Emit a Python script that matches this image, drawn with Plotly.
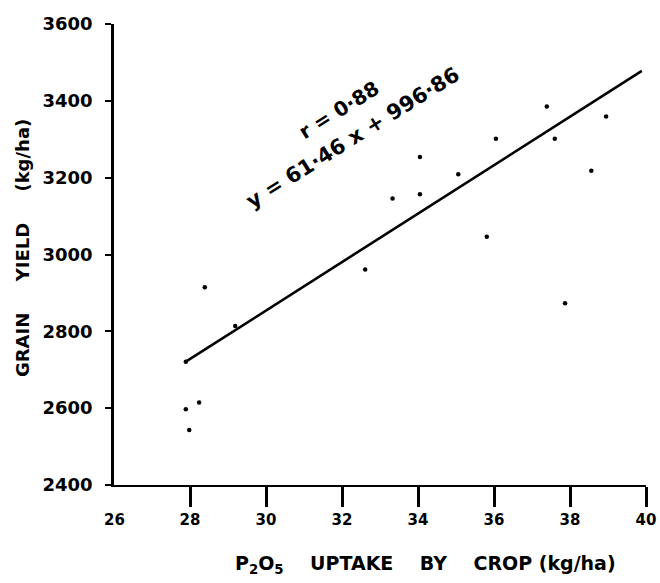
import plotly.graph_objects as go

# P2O5 uptake by crop (kg/ha) vs grain yield (kg/ha)
p2o5_uptake = [37.39, 38.95, 36.05, 37.60, 34.05, 35.06, 38.56, 33.33, 34.05,
               35.81, 32.61, 37.87, 28.39, 29.19, 27.89, 28.24, 27.89, 27.98]
grain_yield = [3385, 3359, 3301, 3301, 3254, 3209, 3218, 3146, 3157,
               3046, 2961, 2873, 2915, 2814, 2721, 2615, 2597, 2543]

# drawn regression line end points
line_x = [27.89, 39.89]
line_y = [2721, 3478]

x_tickvals = [28, 30, 32, 34, 36, 38, 40]
x_ticktext = ["28", "30", "32", "34", "36", "38", "40"]
x_first_label = "26"
y_tickvals = [2400, 2600, 2800, 3000, 3200, 3400, 3600]
y_ticktext = ["2400", "2600", "2800", "3000", "3200", "3400", "3600"]

NB = "\u00a0"
x_title = ("P<sub>2</sub>O<sub>5</sub>" + NB * 4 + "UPTAKE" + NB * 4 + "BY" + NB * 4 +
           "CROP" + NB + "(kg/ha)")
y_title = "GRAIN" + NB * 5 + "YIELD" + NB * 5 + "(kg/ha)"
r_text = "r = 0·88"
eq_text = "y = 61·46 x + 996·86"

FONT = "DejaVu Sans"

fig = go.Figure()
fig.add_trace(go.Scatter(x=line_x, y=line_y, mode="lines",
                         line=dict(color="black", width=2.6),
                         hoverinfo="skip", showlegend=False))
fig.add_trace(go.Scatter(x=p2o5_uptake, y=grain_yield, mode="markers",
                         marker=dict(color="black", size=4.5),
                         showlegend=False))

fig.update_layout(
    width=660, height=583,
    margin=dict(l=114, r=14, t=24, b=98),
    plot_bgcolor="white", paper_bgcolor="white",
    font=dict(family=FONT, color="black"),
    xaxis=dict(range=[26, 40], tickvals=x_tickvals, ticktext=x_ticktext,
               automargin=False,
               showgrid=False, zeroline=False, showline=True,
               linecolor="black", linewidth=2.2,
               ticks="outside", ticklen=20, tickwidth=2.5, tickcolor="black",
               tickfont=dict(family=FONT, size=15, color="black", weight="bold")),
    yaxis=dict(range=[2400, 3600], tickvals=y_tickvals, ticktext=y_ticktext,
               automargin=False,
               showgrid=False, zeroline=False, showline=True,
               linecolor="black", linewidth=2.6,
               ticks="outside", ticklen=6, tickwidth=2.2, tickcolor="black",
               ticklabelstandoff=9,
               tickfont=dict(family=FONT, size=18, color="black", weight="bold")),
)

fig.add_annotation(x=26, y=2400, xref="x", yref="y", text=x_first_label,
                   showarrow=False, yshift=-35,
                   font=dict(family=FONT, size=15, color="black", weight="bold"))

fig.add_annotation(x=0.585, y=-0.1735, xref="paper", yref="paper", text=x_title,
                   showarrow=False, xanchor="center", yanchor="middle",
                   font=dict(family=FONT, size=19, color="black", weight="bold"))
fig.add_annotation(x=-0.173, y=0.514, xref="paper", yref="paper", text=y_title,
                   showarrow=False, textangle=-90, xanchor="center", yanchor="middle",
                   font=dict(family=FONT, size=18, color="black", weight="bold"))

fig.add_annotation(x=31.92, y=3376, xref="x", yref="y", text=r_text,
                   showarrow=False, textangle=-32, xanchor="center", yanchor="middle",
                   font=dict(family=FONT, size=20, color="black", weight="bold"))
fig.add_annotation(x=32.28, y=3302, xref="x", yref="y", text=eq_text,
                   showarrow=False, textangle=-32, xanchor="center", yanchor="middle",
                   font=dict(family=FONT, size=21, color="black", weight="bold"))

fig.write_html("out.html")
